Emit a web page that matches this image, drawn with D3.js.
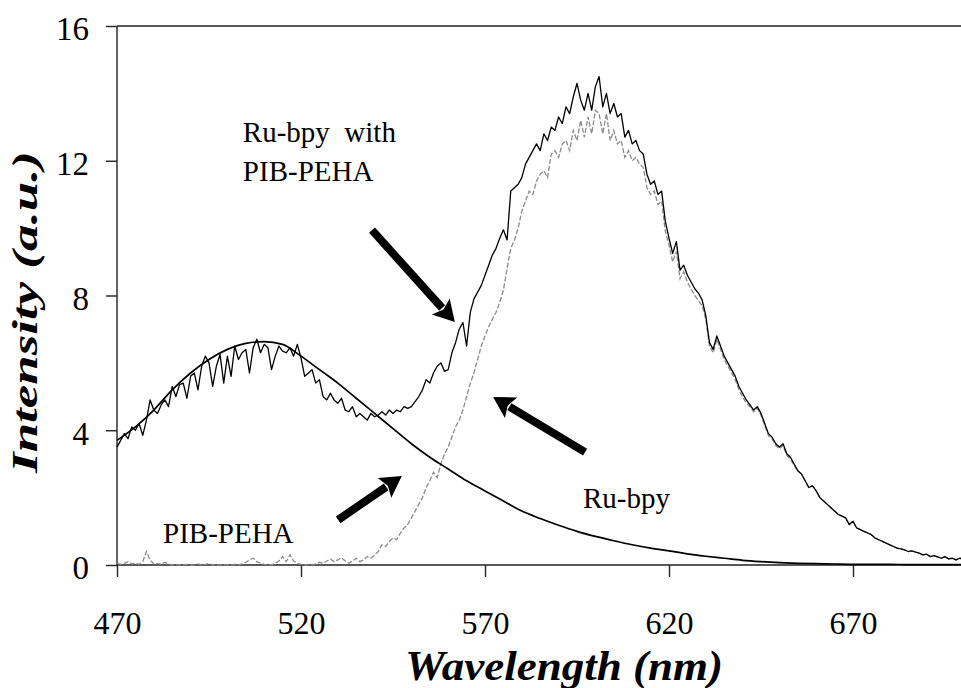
<!DOCTYPE html>
<html><head><meta charset="utf-8">
<script src="https://cdn.jsdelivr.net/npm/d3@7"></script>
<style>
body{margin:0;background:#fff}
svg{display:block;background:#fff}
svg text{font-family:'Liberation Serif','Times New Roman',Tinos,'DejaVu Serif',serif;}
</style>
</head><body>
<svg id="c" width="961" height="688"></svg>
<script>
// ---------- data ----------
const wavelengths = d3.range(470, 701); // 1 nm steps, 470..700

// Ru-bpy with PIB-PEHA (solid black, noisy)
const withPibValues = [
  3.5, 3.7, 3.9, 3.75, 4.1, 4.0, 4.2, 3.85, 4.3, 4.9,
  4.6, 4.5, 4.75, 4.9, 4.7, 5.3, 5.0, 5.35, 5.4, 4.95,
  5.6, 5.7, 5.2, 5.9, 6.2, 6.0, 5.3, 5.9, 6.25, 5.4,
  6.2, 5.6, 6.5, 6.1, 6.3, 6.4, 5.7, 6.45, 6.7, 6.3,
  6.55, 6.45, 5.8, 6.2, 6.5, 6.35, 6.3, 6.45, 6.2, 6.55,
  6.15, 5.6, 5.7, 5.8, 5.4, 5.5, 5.0, 4.9, 5.1, 4.9,
  4.8, 4.95, 4.6, 4.55, 4.7, 4.4, 4.5, 4.4, 4.3, 4.5,
  4.4, 4.45, 4.55, 4.45, 4.6, 4.5, 4.6, 4.55, 4.7, 4.65,
  4.7, 4.85, 5.0, 5.2, 5.5, 5.4, 5.7, 5.9, 6.0, 5.75,
  5.8, 6.3, 6.6, 7.0, 7.2, 6.5, 7.5, 7.9, 8.1, 8.3,
  8.6, 8.9, 9.2, 9.4, 9.7, 9.95, 9.65, 11.1, 11.2, 11.3,
  11.5, 11.9, 12.1, 12.3, 12.5, 12.3, 12.8, 12.6, 13.0, 12.9,
  13.3, 13.1, 13.6, 13.4, 13.9, 14.3, 13.8, 13.5, 14.0, 13.5,
  14.2, 14.5, 13.6, 14.0, 13.4, 13.7, 13.3, 13.4, 12.7, 12.9,
  12.5, 12.6, 12.3, 12.2, 11.6, 11.3, 11.4, 11.0, 11.1, 10.2,
  9.7, 9.25, 9.6, 8.75, 8.9, 8.6, 8.4, 8.2, 8.07, 7.87,
  7.4, 6.6, 6.4, 6.8, 6.5, 6.2, 6.0, 5.8, 5.6, 5.3,
  5.1, 4.9, 4.75, 4.6, 4.7, 4.5, 4.2, 3.9, 3.8, 3.6,
  3.5, 3.6, 3.3, 3.2, 3.0, 2.8, 2.7, 2.5, 2.3, 2.35,
  2.2, 2.0, 1.9, 1.8, 1.7, 1.6, 1.5, 1.45, 1.4, 1.2,
  1.3, 1.1, 1.05, 1.0, 0.95, 0.9, 0.8, 0.75, 0.7, 0.65,
  0.6, 0.55, 0.5, 0.48, 0.45, 0.4, 0.42, 0.38, 0.35, 0.3,
  0.32, 0.25, 0.28, 0.24, 0.2, 0.25, 0.18, 0.2, 0.15, 0.2, 0.18
];

// Ru-bpy alone (grey dashed)
const ruBpyValues = [
  0.05, 0.02, 0.05, 0.1, 0.03, 0.05, 0.02, 0.1, 0.4, 0.15,
  0.03, 0.05, 0.02, 0.08, 0.03, 0.0, 0.02, 0.0, 0.0, 0.02,
  0.0, 0.0, 0.03, 0.0, 0.02, 0.05, 0.0, 0.0, 0.0, 0.02,
  0.0, 0.0, 0.02, 0.0, 0.03, 0.08, 0.15, 0.2, 0.1, 0.05,
  0.02, 0.0, 0.0, 0.05, 0.12, 0.25, 0.1, 0.3, 0.12, 0.05,
  0.02, 0.0, 0.02, 0.0, 0.03, 0.08, 0.05, 0.12, 0.18, 0.1,
  0.15, 0.22, 0.12, 0.05, 0.12, 0.2, 0.1, 0.15, 0.25, 0.2,
  0.3, 0.4, 0.6, 0.55, 0.7, 0.8, 0.75, 0.95, 1.1, 1.2,
  1.4, 1.6, 1.8, 2.0, 2.3, 2.5, 2.75, 2.6, 3.0, 3.3,
  3.5, 3.8, 4.1, 4.3, 4.6, 5.0, 5.4, 5.7, 6.1, 6.5,
  6.8, 7.07, 7.3, 7.5, 7.8, 8.16, 8.8, 9.4, 9.65, 10.0,
  10.5, 10.8, 11.1, 11.0, 11.4, 11.6, 11.7, 11.5, 12.2, 12.3,
  12.1, 12.5, 12.6, 12.3, 12.9, 12.6, 13.2, 12.7, 13.3, 12.8,
  13.5, 13.4, 12.8, 13.4, 12.6, 12.9, 12.5, 12.6, 12.1, 12.3,
  12.0, 12.1, 11.9, 11.8, 11.2, 11.0, 11.1, 10.7, 10.8, 9.9,
  9.5, 9.0, 9.3, 8.5, 8.7, 8.4, 8.2, 8.0, 7.85, 7.7,
  7.3, 6.5, 6.3, 6.7, 6.4, 6.1, 5.9, 5.7, 5.5, 5.2,
  5.0, 4.8, 4.7, 4.55, 4.65, 4.45, 4.15, 3.85, 3.75, 3.55,
  3.45, 3.55, 3.25, 3.15, 2.95, 2.8, 2.7, 2.5, 2.3, 2.35,
  2.2, 2.0, 1.9, 1.8, 1.7, 1.6, 1.5, 1.45, 1.4, 1.2,
  1.3, 1.1, 1.05, 1.0, 0.95, 0.9, 0.8, 0.75, 0.7, 0.65,
  0.6, 0.55, 0.5, 0.48, 0.45, 0.4, 0.42, 0.38, 0.35, 0.3,
  0.32, 0.25, 0.28, 0.24, 0.2, 0.25, 0.18, 0.2, 0.15, 0.2, 0.18
];

// PIB-PEHA (solid black, smooth), 5 nm steps
const pibWavelengths = d3.range(470, 701, 5);
const pibValues = [
  3.7, 4.1, 4.6, 5.2, 5.7, 6.1, 6.4, 6.58, 6.63, 6.55,
  6.2, 5.8, 5.4, 4.95, 4.5, 4.05, 3.6, 3.2, 2.85, 2.5,
  2.2, 1.9, 1.6, 1.38, 1.18, 1.0, 0.85, 0.72, 0.6, 0.5,
  0.42, 0.33, 0.26, 0.2, 0.14, 0.1, 0.07, 0.05, 0.04, 0.03,
  0.02, 0.02, 0.02, 0.01, 0.01, 0.01, 0.01
];

const xTicks = [470, 520, 570, 620, 670];
const yTicks = [0, 4, 8, 12, 16];
const xTitle = "Wavelength (nm)";
const yTitle = "Intensity (a.u.)";

// annotations in data coordinates [wavelength, intensity]
const noteTexts = ["Ru-bpy  with", "PIB-PEHA", "Ru-bpy", "PIB-PEHA"];
const notePos = [[504.2, 12.56], [504.2, 11.4], [596.6, 1.69], [482.5, 0.65]];
const arrowTails = [[539.3, 9.94], [597.2, 3.35], [530.1, 1.34]];
const arrowTips  = [[561.8, 7.21], [572.2, 4.99], [547.4, 2.64]];

// ---------- chart ----------
const svg = d3.select('#c');
const FONT = "'Liberation Serif','Times New Roman',Tinos,'DejaVu Serif',serif";
const x = d3.scaleLinear().domain([470, 700]).range([117, 963.4]);
const y = d3.scaleLinear().domain([0, 16]).range([565, 26]);

// frame lines
const axisColor = '#222';
svg.append('line').attr('x1', 117).attr('x2', 961).attr('y1', y(16)).attr('y2', y(16))
  .attr('stroke', axisColor).attr('stroke-width', 1.4);
svg.append('line').attr('x1', 117).attr('x2', 961).attr('y1', y(0)).attr('y2', y(0))
  .attr('stroke', axisColor).attr('stroke-width', 1.4);
svg.append('line').attr('x1', x(470)).attr('x2', x(470)).attr('y1', y(16)).attr('y2', y(0))
  .attr('stroke', axisColor).attr('stroke-width', 1.4);

// axes
const yAxis = svg.append('g').attr('transform', `translate(${x(470)},0)`)
  .call(d3.axisLeft(y).tickValues(yTicks).tickSize(11).tickSizeOuter(0).tickPadding(17).tickFormat(d3.format('d')));
yAxis.select('.domain').remove();
yAxis.attr('font-family', null).attr('font-size', null);
yAxis.selectAll('line').attr('stroke', axisColor).attr('stroke-width', 1.4);
yAxis.selectAll('text').attr('fill', '#000').attr('dy', '0.42em')
  .style('font-family', FONT).style('font-size', '33px');

const xAxis = svg.append('g').attr('transform', `translate(0,${y(0)})`)
  .call(d3.axisBottom(x).tickValues(xTicks).tickSize(12).tickSizeOuter(0).tickFormat(d3.format('d')));
xAxis.select('.domain').remove();
xAxis.attr('font-family', null).attr('font-size', null);
xAxis.selectAll('line').attr('stroke', axisColor).attr('stroke-width', 1.4);
xAxis.selectAll('text').attr('fill', '#000').attr('y', 69).attr('dy', 0)
  .style('font-family', FONT).style('font-size', '32px');

// series
const line = d3.line().x(d => x(d[0])).y(d => y(d[1]));
const ruData = wavelengths.map((w, i) => [w, ruBpyValues[i]]);
const withData = wavelengths.map((w, i) => [w, withPibValues[i]]);
const pibData = pibWavelengths.map((w, i) => [w, pibValues[i]]);

svg.append('path').datum(ruData).attr('d', line)
  .attr('fill', 'none').attr('stroke', '#8a8a8a').attr('stroke-width', 1.3)
  .attr('stroke-dasharray', '5,2');
svg.append('path').datum(withData).attr('d', line)
  .attr('fill', 'none').attr('stroke', '#000').attr('stroke-width', 1.3)
  .attr('stroke-linejoin', 'round');
svg.append('path').datum(pibData).attr('d', line.curve(d3.curveMonotoneX))
  .attr('fill', 'none').attr('stroke', '#000').attr('stroke-width', 1.7);

// arrows
const headLen = 21, headHalf = 12, shaftW = 8;
arrowTails.forEach((t, i) => {
  const tip = arrowTips[i];
  const x0 = x(t[0]), y0 = y(t[1]), x1 = x(tip[0]), y1 = y(tip[1]);
  const dx = x1 - x0, dy = y1 - y0, len = Math.hypot(dx, dy);
  const ux = dx / len, uy = dy / len, px = -uy, py = ux;
  const bx = x1 - ux * headLen, by = y1 - uy * headLen;
  svg.append('line').attr('x1', x0).attr('y1', y0).attr('x2', bx + ux * 2).attr('y2', by + uy * 2)
    .attr('stroke', '#000').attr('stroke-width', shaftW);
  svg.append('polygon')
    .attr('points', [[x1, y1], [bx + px * headHalf, by + py * headHalf], [bx + ux * 4, by + uy * 4], [bx - px * headHalf, by - py * headHalf]].map(p => p.join(',')).join(' '))
    .attr('fill', '#000');
});

// annotation texts
noteTexts.forEach((t, i) => {
  svg.append('text').attr('x', x(notePos[i][0])).attr('y', y(notePos[i][1]))
    .attr('fill', '#000').style('white-space', 'pre')
    .style('font-family', FONT).style('font-size', '29px').text(t);
});

// axis titles
svg.append('text').attr('x', 564).attr('y', 680).attr('text-anchor', 'middle')
  .attr('textLength', 318).attr('lengthAdjust', 'spacingAndGlyphs')
  .style('font-family', FONT).style('font-size', '43px')
  .style('font-weight', 'bold').style('font-style', 'italic').attr('fill', '#000')
  .text(xTitle);
svg.append('text').attr('transform', 'translate(37,312) rotate(-90) scale(1.47,1)')
  .attr('text-anchor', 'middle')
  .style('font-family', FONT).style('font-size', '36px')
  .style('font-weight', 'bold').style('font-style', 'italic').attr('fill', '#000').text(yTitle);
</script>
</body></html>
